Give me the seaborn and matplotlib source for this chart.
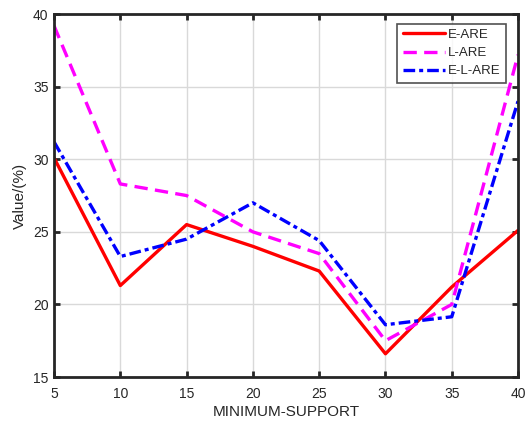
import numpy as np
import pandas as pd
import matplotlib
matplotlib.use("Agg")
import matplotlib.pyplot as plt
import seaborn as sns

support = [5, 10, 15, 20, 25, 30, 35, 40]
e_are = [30.1, 21.3, 25.5, 24.0, 22.3, 16.6, 21.2, 25.1]
l_are = [39.2, 28.3, 27.5, 25.0, 23.5, 17.5, 20.0, 37.2]
el_are = [31.2, 23.3, 24.5, 27.0, 24.4, 18.6, 19.15, 34.0]
series_names = ["E-ARE", "L-ARE", "E-L-ARE"]
x_ticks = [5, 10, 15, 20, 25, 30, 35, 40]
y_ticks = [15, 20, 25, 30, 35, 40]

df = pd.DataFrame({
    "support": support * 3,
    "value": e_are + l_are + el_are,
    "series": [n for n in series_names for _ in support],
})

sns.set_style("white")
plt.rcParams["font.family"] = ["Liberation Sans", "DejaVu Sans"]

fig = plt.figure(figsize=(5.27, 4.21), dpi=100)
ax = fig.add_axes([0.1025, 0.1045, 0.8805, 0.862])

palette = {"E-ARE": "#ff0000", "L-ARE": "#ff00ff", "E-L-ARE": "#0000ff"}
dashes = {"E-ARE": "", "L-ARE": (4, 2.2), "E-L-ARE": (3.5, 1.2, 1.2, 1.2)}
sns.lineplot(data=df, x="support", y="value", hue="series", style="series",
             palette=palette, dashes=dashes, linewidth=2.4, ax=ax, legend=True)

ax.set_xlim(5, 40)
ax.set_ylim(15, 40)
ax.set_xticks(x_ticks)
ax.set_yticks(y_ticks)
ax.grid(True, color="#d9d9d9", linewidth=1.0)
ax.set_axisbelow(True)
for s in ax.spines.values():
    s.set_color("#262626")
    s.set_linewidth(2.0)
ax.tick_params(direction="in", length=4, width=2, color="#262626",
               labelsize=10, labelcolor="#262626", top=True, right=True,
               bottom=True, left=True)
ax.tick_params(axis="x", pad=7)
ax.tick_params(axis="y", pad=4)
ax.set_xlabel("MINIMUM-SUPPORT", fontsize=11, color="#262626", labelpad=3)
ax.set_ylabel("Value/(%)", fontsize=11, color="#262626", labelpad=4)

leg = ax.legend(loc="upper right", bbox_to_anchor=(0.983, 0.985), fontsize=9.5,
                frameon=True, fancybox=False, handlelength=3.2,
                borderpad=0.4, labelspacing=0.45, handletextpad=0.25,
                borderaxespad=0.3)
leg.get_frame().set_edgecolor("#262626")
leg.get_frame().set_linewidth(1.2)

fig.savefig("out.png", dpi=100)
